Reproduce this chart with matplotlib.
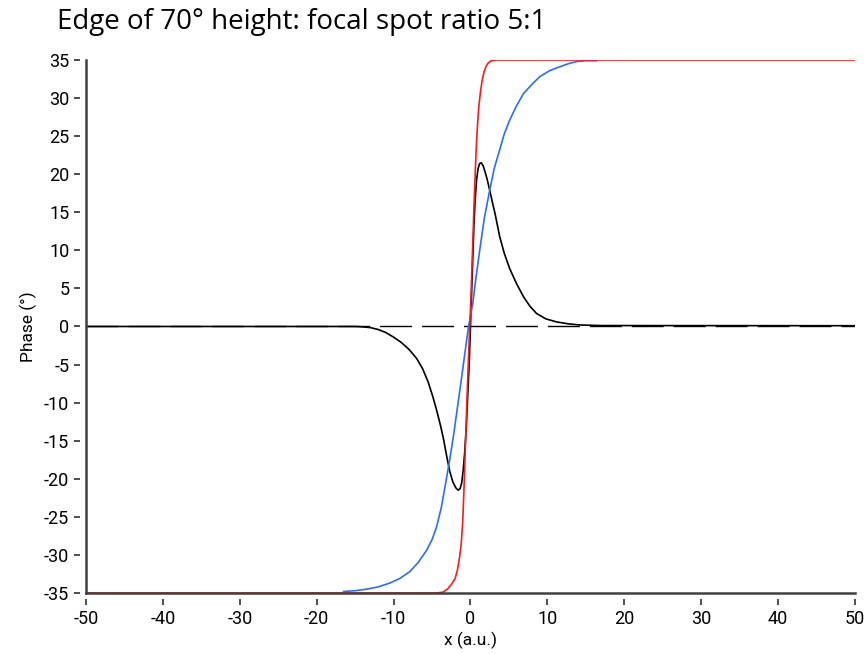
import matplotlib
matplotlib.use('Agg')
import matplotlib.pyplot as plt
import numpy as np

plt.rcParams['axes.unicode_minus'] = False

# phase of the sharp edge (red)
red_x = [-50, -4.5, -3.6, -3.0, -2.5, -2.0, -1.7, -1.4, -1.2, -1.0, -0.85, -0.7, -0.55,
         -0.4, -0.25, -0.1, 0.05, 0.2, 0.35, 0.5, 0.65, 0.8, 0.95, 1.1, 1.3, 1.5, 1.75,
         2.0, 2.3, 2.7, 3.3, 50]
red_y = [-35, -35, -34.9, -34.5, -33.9, -33.1, -32.0, -30.2, -28.5, -25.5, -21.5, -17.0,
         -12.5, -8.0, -4.0, 0, 3.5, 8.0, 12.5, 17.0, 21.0, 24.5, 27.0, 29.0, 30.8, 32.2,
         33.4, 34.1, 34.6, 34.9, 35, 35]

# phase blurred by the focal spot (blue)
blue_x = [-16.5, -15, -13.5, -12, -10.5, -9.2, -7.9, -6.8, -5.7, -5.0, -4.4, -3.8, -3.3,
          -2.7, -2.2, -1.8, -1.3, -0.9, -0.25, 0.3, 0.7, 1.2, 1.8, 2.5, 3.1, 3.8, 4.4,
          5.1, 6.0, 6.9, 8.0, 9.0, 10.3, 11.6, 12.7, 13.8, 15, 16.4]
blue_y = [-34.8, -34.7, -34.5, -34.2, -33.7, -33.1, -32.2, -31.0, -29.4, -28.0, -26.3,
          -23.8, -21.0, -17.5, -14.3, -11.4, -7.8, -4.8, 0, 3.0, 6.3, 10.0, 14.2, 17.9,
          20.8, 23.2, 25.3, 27.1, 29.0, 30.6, 31.8, 32.8, 33.6, 34.1, 34.5, 34.8, 34.9,
          34.9]

# difference between the two (black)
diff_x = [-50, -15, -14, -13, -12, -11, -10, -9, -8, -7, -6.2, -5.5, -4.9, -4.4, -3.9,
          -3.5, -3.1, -2.7, -2.3, -1.9, -1.6, -1.35, -1.15, -0.94, -0.75, -0.58, -0.42,
          -0.28, -0.15, 0.0, 0.15, 0.3, 0.45, 0.6, 0.8, 1.0, 1.2, 1.4, 1.65, 1.9, 2.2,
          2.5, 2.85, 3.2, 3.5, 3.8, 4.4, 5.1, 6.0, 6.9, 7.7, 8.6, 9.8, 11.2, 12.7, 14.2,
          17, 50]
diff_y = [0, 0, -0.05, -0.15, -0.4, -0.8, -1.4, -2.1, -3.0, -4.2, -5.6, -7.3, -9.2,
          -11.0, -13.0, -14.8, -17.0, -19.0, -20.4, -21.2, -21.5, -21.3, -20.6, -18.8,
          -16.5, -13.8, -10.5, -7.3, -4.4, 0, 4.5, 9.0, 13.3, 16.5, 19.3, 20.8, 21.4,
          21.5, 21.1, 20.3, 19.2, 17.9, 16.3, 14.8, 13.3, 11.8, 9.6, 7.6, 5.6, 3.9, 2.7,
          1.7, 1.0, 0.6, 0.35, 0.2, 0.12, 0.1]

x_ticks = np.arange(-50, 51, 10)
y_ticks = np.arange(-35, 36, 5)

tick_font = ['Roboto', 'DejaVu Sans']
axis_col = '#404040'

fig = plt.figure(figsize=(8.65, 6.54), dpi=100)
ax = fig.add_axes([0.0994, 0.0933, 0.889, 0.815])

ax.plot([-50, 50], [0, 0], color='black', lw=1.0, dashes=(23, 7.2), zorder=2)
ax.plot(diff_x, diff_y, color='black', lw=1.2, zorder=3)
ax.plot(blue_x, blue_y, color='#2a6ef5', lw=1.2, zorder=4)
ax.plot(red_x, red_y, color='#ff1a1a', lw=1.2, zorder=5)

ax.set_xlim(-50, 50)
ax.set_ylim(-35, 35)
ax.set_xticks(x_ticks)
ax.set_yticks(y_ticks)

# ticks sit a little away from the axis lines
for side in ['top', 'right']:
    ax.spines[side].set_visible(False)
for side in ['bottom', 'left']:
    ax.spines[side].set_position(('outward', 4.5))
    ax.spines[side].set_color('none')
ax.axhline(-35, color=axis_col, lw=1.8, clip_on=False, zorder=6)
ax.axvline(-50, color=axis_col, lw=1.8, clip_on=False, zorder=6)

ax.tick_params(direction='out', length=4.5, width=1.3, color=axis_col, pad=3,
               labelsize=13)
for lab in ax.get_xticklabels() + ax.get_yticklabels():
    lab.set_family(tick_font)

ax.set_xlabel('x (a.u.)', fontsize=12.5, family=tick_font, labelpad=3)
ax.set_ylabel('Phase (°)', fontsize=12.5, family=tick_font, labelpad=5)
fig.text(0.066, 0.955, 'Edge of 70° height: focal spot ratio 5:1', fontsize=20,
         family=['Open Sans', 'DejaVu Sans'], va='baseline', ha='left')

fig.savefig('out.png', dpi=100)
